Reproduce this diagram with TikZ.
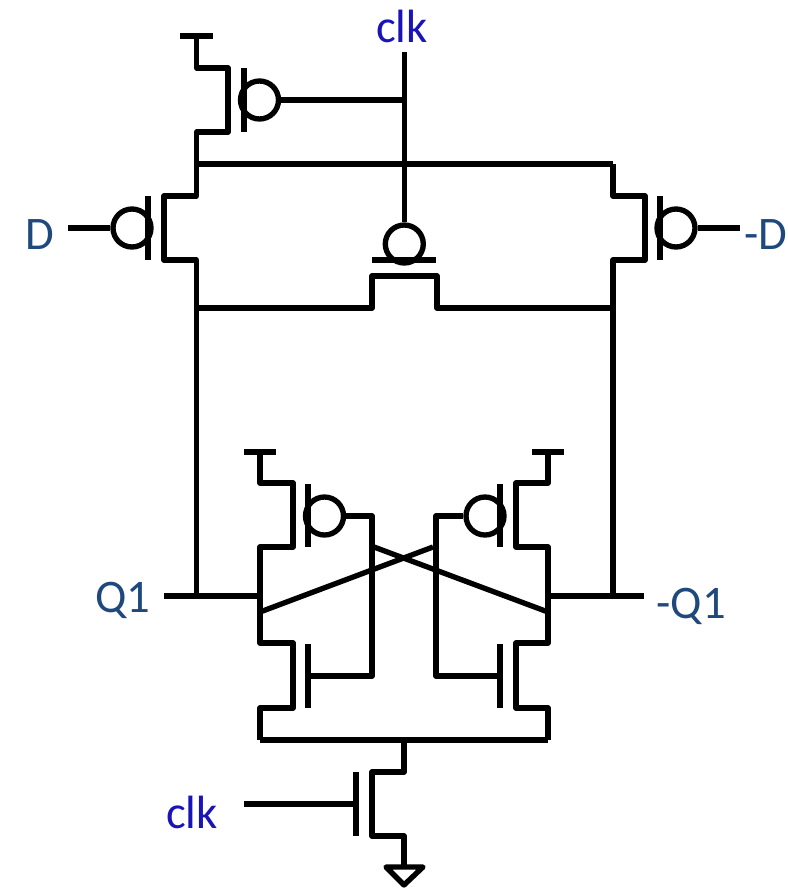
\documentclass[tikz,border=0pt]{standalone}
\usepackage{fontspec}
\usepackage{tikz}
\setmainfont{Carlito}
\definecolor{clkblue}{RGB}{26,20,184}
\definecolor{sigblue}{RGB}{31,73,125}
\tikzset{every picture/.style={line width=4pt}}
\tikzset{
	wire/.style={draw=black,line join=round},
	bubble/.style={circle,draw=black,inner sep=0pt,minimum size=28.5pt},
	clklabel/.style={text=clkblue,font=\fontsize{35}{35}\selectfont,inner sep=0pt},
	siglabel/.style={text=sigblue,font=\fontsize{35}{35}\selectfont,inner sep=0pt}
}
\begin{document}
\begin{tikzpicture}[x=0.75pt,y=0.75pt,yscale=-1,xscale=1]
	\useasboundingbox (0,0) rectangle (788,889);
	
	%Top precharge device
	\coordinate (vddA) at (196.5,36);
	\coordinate (vddAl) at (180,36);
	\coordinate (vddAr) at (213,36);
	\coordinate (topS) at (196.5,68);
	\coordinate (topSi) at (228,68);
	\coordinate (topDi) at (228,132);
	\coordinate (topD) at (196.5,132);
	\coordinate (railL) at (196.5,164);
	\coordinate (railR) at (613,164);
	\coordinate (topGa) at (244,68);
	\coordinate (topGb) at (244,132);
	\node [bubble] (bubTop) at (259.5,100) {};
	\draw [wire] (vddAl) -- (vddAr);
	\draw [wire] (vddA) -- (topS) -- (topSi) -- (topDi) -- (topD) -- (railL);
	\draw [wire] (topGa) -- (topGb);
	\draw [wire] (railL) -- (railR);
	
	%Clock line
	\coordinate (clkEnd) at (404.3,52);
	\coordinate (clkTap) at (404.3,100);
	\node [bubble] (bubMid) at (404.3,244) {};
	\draw [wire] (clkEnd) -- (bubMid.north);
	\draw [wire] (bubTop.east) -- (clkTap);
	
	%Input device D
	\coordinate (dS) at (196.5,196);
	\coordinate (dSi) at (164,196);
	\coordinate (dDi) at (164,260);
	\coordinate (dD) at (196.5,260);
	\coordinate (q1Tap) at (196.5,596);
	\coordinate (dGa) at (148,196);
	\coordinate (dGb) at (148,260);
	\coordinate (dWire) at (68,228);
	\node [bubble] (bubD) at (132,228) {};
	\draw [wire] (railL) -- (dS) -- (dSi) -- (dDi) -- (dD) -- (q1Tap);
	\draw [wire] (dGa) -- (dGb);
	\draw [wire] (dWire) -- (bubD.west);
	
	%Input device -D
	\coordinate (nS) at (613,196);
	\coordinate (nSi) at (645,196);
	\coordinate (nDi) at (645,260);
	\coordinate (nD) at (613,260);
	\coordinate (nq1Tap) at (613,596);
	\coordinate (nGa) at (660,196);
	\coordinate (nGb) at (660,260);
	\coordinate (nWire) at (740,228);
	\node [bubble] (bubN) at (676,228) {};
	\draw [wire] (railR) -- (nS) -- (nSi) -- (nDi) -- (nD) -- (nq1Tap);
	\draw [wire] (nGa) -- (nGb);
	\draw [wire] (bubN.east) -- (nWire);
	
	%Equalising device
	\coordinate (eqL) at (196.5,308);
	\coordinate (eqLi) at (372,308);
	\coordinate (eqLt) at (372,276);
	\coordinate (eqRt) at (437,276);
	\coordinate (eqRi) at (437,308);
	\coordinate (eqR) at (613,308);
	\coordinate (eqGa) at (372,260);
	\coordinate (eqGb) at (436,260);
	\draw [wire] (eqL) -- (eqLi) -- (eqLt) -- (eqRt) -- (eqRi) -- (eqR);
	\draw [wire] (eqGa) -- (eqGb);
	
	%Latch, left side
	\coordinate (vddB) at (260,452);
	\coordinate (vddBl) at (244,452);
	\coordinate (vddBr) at (276,452);
	\coordinate (lpS) at (260,483);
	\coordinate (lpSi) at (293,483);
	\coordinate (lpDi) at (293,547);
	\coordinate (lpD) at (260,547);
	\coordinate (q1L) at (260,596);
	\coordinate (q1Cross) at (260,612);
	\coordinate (lnD) at (260,643);
	\coordinate (lnDi) at (293,643);
	\coordinate (lnSi) at (293,708);
	\coordinate (lnS) at (260,708);
	\coordinate (tailL) at (260,740);
	\coordinate (lpGa) at (308,484);
	\coordinate (lpGb) at (308,547);
	\coordinate (lnGa) at (308,644);
	\coordinate (lnGb) at (308,708);
	\coordinate (lnG) at (308,676);
	\coordinate (lGateT) at (372,516);
	\coordinate (lGateB) at (372,676);
	\coordinate (lCrossEnd) at (374,547);
	\coordinate (q1End) at (164,596);
	\node [bubble] (bubLp) at (324.5,516) {};
	\draw [wire] (vddBl) -- (vddBr);
	\draw [wire] (vddB) -- (lpS) -- (lpSi) -- (lpDi) -- (lpD) -- (lnD) -- (lnDi) -- (lnSi) -- (lnS) -- (tailL);
	\draw [wire] (lpGa) -- (lpGb);
	\draw [wire] (lnGa) -- (lnGb);
	\draw [wire] (bubLp.east) -- (lGateT) -- (lGateB) -- (lnG);
	\draw [wire] (q1End) -- (q1L);
	
	%Latch, right side
	\coordinate (vddC) at (548,452);
	\coordinate (vddCl) at (532,452);
	\coordinate (vddCr) at (564,452);
	\coordinate (rpS) at (548,483);
	\coordinate (rpSi) at (516,483);
	\coordinate (rpDi) at (516,547);
	\coordinate (rpD) at (548,547);
	\coordinate (nq1R) at (548,596);
	\coordinate (nq1Cross) at (548,612);
	\coordinate (rnD) at (548,643);
	\coordinate (rnDi) at (516,643);
	\coordinate (rnSi) at (516,708);
	\coordinate (rnS) at (548,708);
	\coordinate (tailR) at (548,740);
	\coordinate (rpGa) at (500,484);
	\coordinate (rpGb) at (500,547);
	\coordinate (rnGa) at (500,644);
	\coordinate (rnGb) at (500,708);
	\coordinate (rnG) at (500,676);
	\coordinate (rGateT) at (436,516);
	\coordinate (rGateB) at (436,676);
	\coordinate (rCrossEnd) at (433,547);
	\coordinate (nq1End) at (644,596);
	\node [bubble] (bubRp) at (485,516) {};
	\draw [wire] (vddCl) -- (vddCr);
	\draw [wire] (vddC) -- (rpS) -- (rpSi) -- (rpDi) -- (rpD) -- (rnD) -- (rnDi) -- (rnSi) -- (rnS) -- (tailR);
	\draw [wire] (rpGa) -- (rpGb);
	\draw [wire] (rnGa) -- (rnGb);
	\draw [wire] (bubRp.west) -- (rGateT) -- (rGateB) -- (rnG);
	\draw [wire] (nq1R) -- (nq1End);
	
	%Cross coupling
	\draw [wire] (q1Cross) -- (rCrossEnd);
	\draw [wire] (nq1Cross) -- (lCrossEnd);
	
	%Foot device and ground
	\coordinate (tailM) at (404,740);
	\coordinate (ftD) at (404,772);
	\coordinate (ftDi) at (372,772);
	\coordinate (ftSi) at (372,836);
	\coordinate (ftS) at (404,836);
	\coordinate (gnd) at (404,867);
	\coordinate (gndL) at (386,867);
	\coordinate (gndR) at (423,867);
	\coordinate (gndB) at (404,885);
	\coordinate (ftGa) at (356,772);
	\coordinate (ftGb) at (356,836);
	\coordinate (ftG) at (356,804);
	\coordinate (ftWire) at (244,804);
	\draw [wire] (tailL) -- (tailR);
	\draw [wire] (tailM) -- (ftD) -- (ftDi) -- (ftSi) -- (ftS) -- (gnd);
	\draw [wire] (gndL) -- (gndR) -- (gndB) -- cycle;
	\draw [wire] (ftGa) -- (ftGb);
	\draw [wire] (ftWire) -- (ftG);
	
	% Text Node
	\node [clklabel] (lblClkTop) at (402,26) {clk};
	% Text Node
	\node [clklabel] (lblClkBot) at (192,812) {clk};
	% Text Node
	\node [siglabel] (lblD) at (40,235) {D};
	% Text Node
	\node [siglabel] (lblNd) at (766,235) {-D};
	% Text Node
	\node [siglabel] (lblQ) at (123,600) {Q1};
	% Text Node
	\node [siglabel] (lblNq) at (691,606) {-Q1};
\end{tikzpicture}
\end{document}
